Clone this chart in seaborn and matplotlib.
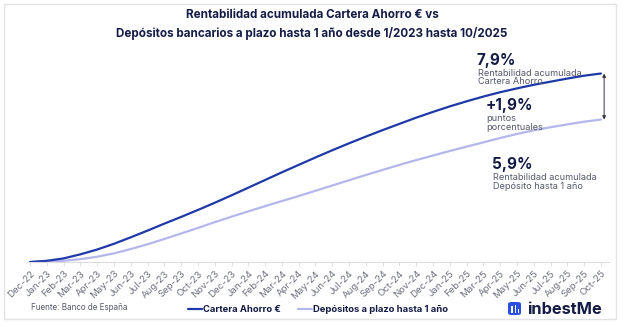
import matplotlib
matplotlib.use("Agg")
import matplotlib.pyplot as plt
from matplotlib.patches import FancyBboxPatch, Rectangle
from matplotlib.lines import Line2D
import seaborn as sns
import pandas as pd

months = ["Dec-22", "Jan-23", "Feb-23", "Mar-23", "Apr-23", "May-23", "Jun-23",
          "Jul-23", "Aug-23", "Sep-23", "Oct-23", "Nov-23", "Dec-23", "Jan-24",
          "Feb-24", "Mar-24", "Apr-24", "May-24", "Jun-24", "Jul-24", "Aug-24",
          "Sep-24", "Oct-24", "Nov-24", "Dec-24", "Jan-25", "Feb-25", "Mar-25",
          "Apr-25", "May-25", "Jun-25", "Jul-25", "Aug-25", "Sep-25", "Oct-25"]

# cumulative return, %
cartera = [0.00, 0.05, 0.15, 0.32, 0.52, 0.76, 1.03, 1.31, 1.60, 1.88, 2.17,
           2.47, 2.78, 3.10, 3.42, 3.74, 4.05, 4.36, 4.66, 4.95, 5.23, 5.50,
           5.76, 6.02, 6.26, 6.49, 6.70, 6.90, 7.08, 7.24, 7.39, 7.52, 7.65,
           7.77, 7.86]
deposito = [0.00, 0.01, 0.05, 0.12, 0.22, 0.36, 0.54, 0.74, 0.96, 1.19, 1.42,
            1.66, 1.89, 2.11, 2.33, 2.54, 2.75, 2.97, 3.19, 3.41, 3.63, 3.84,
            4.05, 4.25, 4.44, 4.63, 4.81, 4.99, 5.17, 5.34, 5.49, 5.62, 5.74,
            5.85, 5.94]

series_names = ["Cartera Ahorro €", "Depósitos a plazo hasta 1 año"]
colors = ["#1f3aa8", "#b4b6ec"]
navy = "#141c45"
grey = "#55586a"

W, H = 624, 327

def fx(px):
    return px / W

def fy(py):
    return 1 - py / H

sns.set_theme(style="white")
plt.rcParams["font.family"] = ["Inter", "DejaVu Sans"]

fig = plt.figure(figsize=(W / 100, H / 100), dpi=100)

# outer frame
fig.patches.append(Rectangle((fx(4), fy(319)), fx(612), 315 / H,
                             transform=fig.transFigure, fill=False,
                             edgecolor="#e2e2e6", linewidth=1.0))

ax = fig.add_axes([fx(27), fy(262), fx(609 - 27), 8.5 * 23.98 / H])

df = pd.DataFrame({
    "pos": list(range(len(months))) * 2,
    "valor": deposito + cartera,
    "serie": [series_names[1]] * len(months) + [series_names[0]] * len(months),
})
sns.lineplot(data=df, x="pos", y="valor", hue="serie",
             hue_order=[series_names[1], series_names[0]],
             palette=[colors[1], colors[0]], linewidth=1.6, legend=False,
             ax=ax)

ax.set_xlim(-0.18, 34.48)
ax.set_ylim(0, 8.5)
ax.set_xlabel("")
ax.set_ylabel("")
ax.set_yticks([])
ax.set_xticks(range(len(months)))
ax.set_xticklabels(months, rotation=45, ha="right", rotation_mode="anchor",
                   fontsize=6.9, color="#6e7080")
ax.tick_params(axis="x", length=3, width=0.6, color="#dcdce0", pad=2,
               bottom=True)
for s in ["top", "right", "left"]:
    ax.spines[s].set_visible(False)
ax.spines["bottom"].set_color("#dcdce0")
ax.spines["bottom"].set_linewidth(0.8)

# gap arrow between the two end points
ax.annotate("", xy=(34.19, cartera[-1]), xytext=(34.19, deposito[-1]),
            arrowprops=dict(arrowstyle="<|-|>", color="#333340", lw=0.7,
                            mutation_scale=5, shrinkA=0, shrinkB=0))

# title
fig.text(0.5, fy(15), "Rentabilidad acumulada Cartera Ahorro € vs",
         ha="center", va="center", fontsize=8.4, fontweight="bold", color=navy)
fig.text(0.5, fy(33),
         "Depósitos bancarios a plazo hasta 1 año desde 1/2023 hasta 10/2025",
         ha="center", va="center", fontsize=8.4, fontweight="bold", color=navy)

# end annotations
fig.text(fx(477), fy(60.5), "7,9%", ha="left", va="center", fontsize=11,
         fontweight="bold", color=navy)
fig.text(fx(478), fy(73), "Rentabilidad acumulada", ha="left", va="center",
         fontsize=6.6, color=grey)
fig.text(fx(478), fy(82), "Cartera Ahorro", ha="left", va="center",
         fontsize=6.6, color=grey)
fig.text(fx(486), fy(105.5), "+1,9%", ha="left", va="center", fontsize=11,
         fontweight="bold", color=navy)
fig.text(fx(486), fy(118.5), "puntos", ha="left", va="center",
         fontsize=6.6, color=grey)
fig.text(fx(486), fy(127.5), "porcentuales", ha="left", va="center",
         fontsize=6.6, color=grey)
fig.text(fx(492), fy(165), "5,9%", ha="left", va="center", fontsize=11,
         fontweight="bold", color=navy)
fig.text(fx(493), fy(178), "Rentabilidad acumulada", ha="left", va="center",
         fontsize=6.6, color=grey)
fig.text(fx(493), fy(186.5), "Depósito hasta 1 año", ha="left", va="center",
         fontsize=6.6, color=grey)

# source
fig.text(fx(31), fy(307), "Fuente: Banco de España", ha="left", va="center",
         fontsize=5.8, color=grey)

# legend
for (x0, x1, xt), name, c in zip([(188, 202, 203), (298, 312, 313)],
                                 series_names, colors):
    fig.lines.append(Line2D([fx(x0), fx(x1)], [fy(309), fy(309)],
                            transform=fig.transFigure, color=c, linewidth=1.6))
    fig.text(fx(xt), fy(309), name, ha="left", va="center", fontsize=6.8,
             fontweight="bold", color=navy)

# brand mark
fig.patches.append(FancyBboxPatch((fx(508), fy(315)), fx(13), 13 / H,
                                  boxstyle="round,pad=0,rounding_size=0.006",
                                  transform=fig.transFigure,
                                  facecolor="#2a4fe0", edgecolor="none"))
for bx, top in [(511, 306), (514.5, 305), (517.5, 308.5)]:
    fig.patches.append(Rectangle((fx(bx), fy(312.5)), fx(1.6),
                                 (312.5 - top) / H,
                                 transform=fig.transFigure,
                                 facecolor="white", edgecolor="none"))
fig.text(fx(527), fy(309), "inbestMe", ha="left", va="center",
         fontsize=11.8, fontweight="bold", color=navy)

fig.savefig("out.png", dpi=100)
